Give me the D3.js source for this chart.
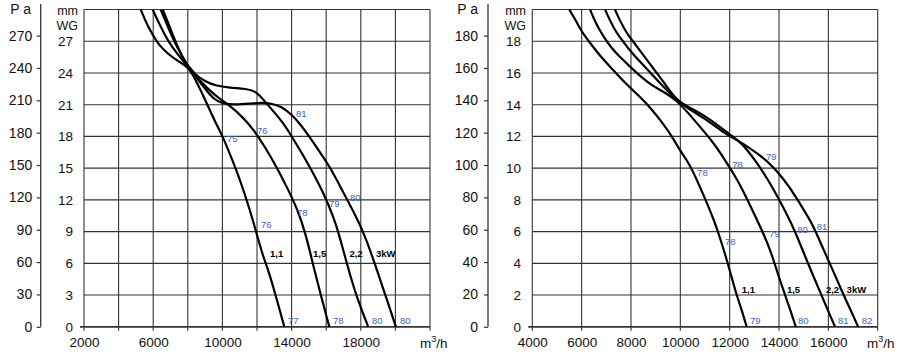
<!DOCTYPE html>
<html><head><meta charset="utf-8">
<script src="https://cdn.jsdelivr.net/npm/d3@7"></script>
<style>
body{margin:0;background:#fff;}
svg{display:block;font-family:"Liberation Sans",Arial,sans-serif;}
</style></head><body>
<svg id="c" width="900" height="354"></svg>
<script>
// ---------------- DATA ----------------
const powerNames = ["1,1", "1,5", "2,2", "3kW"];

// Left chart: flow (m3/h) and static pressure (mm WG)
const L11_q = [5280,5580,5930,6340,6860,7430,8030,8530,9050,9570,10020,10540,11020,11600,11980,12360,12710,13160,13580];
const L11_p = [30.0,28.8,27.7,26.6,25.8,25.1,24.6,23.1,21.3,19.4,18.0,15.9,13.9,11.0,8.8,6.6,5.1,2.5,0];
const L15_q = [5970,6390,6860,7430,8030,8760,9630,10440,11130,11830,12460,13140,13790,14370,14830,15250,15640,16180];
const L15_p = [30.0,28.5,27.0,25.7,24.6,23.1,21.8,20.9,19.9,18.6,17.0,15.1,13.0,11.0,8.7,5.8,3.3,0];
const L22_q = [6430,6860,7260,7670,8030,8470,8990,9570,10440,11360,11940,12560,13040,13500,13970,14490,15060,15640,16100,16570,16910,17260,17720,18430];
const L22_p = [30.0,28.3,26.8,25.6,24.6,23.8,23.2,22.8,22.6,22.5,22.3,21.1,20.2,19.3,18.1,16.7,15.1,13.3,11.7,9.7,7.7,5.6,3.0,0];
const L30_q = [6550,6970,7380,7720,8030,8530,9050,9510,9980,10730,11600,12290,12870,13450,13970,14490,15060,15640,16220,16800,17380,18010,18530,18990,19460,20030];
const L30_p = [30.0,28.3,26.6,25.4,24.6,23.5,22.4,21.5,21.1,21.0,21.1,21.2,21.1,20.8,20.1,19.2,17.9,16.5,15.1,13.3,11.5,9.5,7.3,5.1,2.8,0];

// Left chart sound level labels
const L_noise_text = ["75","76","77","76","78","78","79","80","81","80","80"];
const L_noise_q    = [10270,12230,13790,12000,14310,16390,16160,18650,14250,17380,20270];
const L_noise_p    = [17.85,9.7,0.55,18.6,10.85,0.55,11.7,0.55,20.2,12.27,0.55];
const L_power_q    = [12750,15240,17340,18880];
const L_power_p    = [6.95,6.95,6.95,6.95];

// Right chart
const R11_q = [5500,5730,5930,6140,6340,6780,7270,7800,8370,8850,9300,9660,9990,10270,10510,10800,11080,11370,11610,11850,12050,12260,12480,12690];
const R11_p = [20.0,19.4,18.8,18.3,17.9,17.0,16.2,15.3,14.5,13.7,12.8,12.0,11.1,10.5,9.8,8.8,7.8,6.7,5.6,4.4,3.3,2.1,1.1,0];
const R15_q = [6340,6580,6880,7190,7550,7960,8370,8850,9340,9830,10310,10800,11340,11650,11930,12300,12660,13030,13390,13680,13960,14200,14450,14680];
const R15_p = [20.0,19.1,18.3,17.6,17.0,16.4,15.8,15.2,14.8,14.3,13.5,12.6,11.6,10.9,10.2,9.3,8.2,7.0,5.8,4.7,3.3,2.2,1.1,0];
const R22_q = [6950,7150,7420,7680,7960,8370,8850,9340,9830,10390,11000,11610,12100,12490,13030,13550,14080,14610,15090,15500,15910,16270];
const R22_p = [20.0,19.3,18.5,18.0,17.4,16.7,15.9,15.1,14.3,13.8,13.3,12.6,12.0,11.6,10.5,9.3,7.8,6.2,4.3,2.8,1.3,0];
const R30_q = [7350,7550,7830,8080,8370,8850,9340,9830,10470,11120,11690,12140,12490,13070,13640,14200,14730,15180,15380,15820,16230,16590,16920,17210];
const R30_p = [20.0,19.3,18.5,18.0,17.4,16.4,15.4,14.3,13.6,13.0,12.3,11.9,11.6,11.0,10.3,9.3,8.1,6.9,6.4,4.8,3.4,2.1,1.0,0];

const R_noise_text = ["78","78","79","78","79","80","79","80","81","81","82"];
const R_noise_q    = [10680,11810,12820,12100,13600,14770,13470,14740,16390,15530,17350];
const R_noise_p    = [9.71,5.35,0.37,10.2,5.85,0.37,10.72,6.15,0.37,6.35,0.37];
const R_power_q    = [12490,14320,15900,16740];
const R_power_p    = [2.36,2.36,2.36,2.36];

// Tick values
const L_flowTicks  = [2000,4000,6000,8000,10000,12000,14000,16000,18000,20000,22000];
const L_flowLabels = [2000,6000,10000,14000,18000];
const L_mmTicks    = [0,3,6,9,12,15,18,21,24,27,30];
const L_mmLabels   = [0,3,6,9,12,15,18,21,24,27];
const L_paTicks    = [0,30,60,90,120,150,180,210,240,270];

const R_flowTicks  = [4000,6000,8000,10000,12000,14000,16000,18000];
const R_flowLabels = [4000,6000,8000,10000,12000,14000,16000];
const R_mmTicks    = [0,2,4,6,8,10,12,14,16,18,20];
const R_mmLabels   = [0,2,4,6,8,10,12,14,16,18];
const R_paTicks    = [0,20,40,60,80,100,120,140,160,180];

const PA_PER_MM = 9.80665;

// ---------------- DRAW ----------------
const svg = d3.select("#c");
svg.append("rect").attr("width",900).attr("height",354).attr("fill","#fff");
const FONT = "Liberation Sans, Arial, sans-serif";

function drawChart(cfg){
  const g = svg.append("g");
  const x = d3.scaleLinear().domain(cfg.qDomain).range([cfg.left, cfg.right]);
  const y = d3.scaleLinear().domain([0, cfg.mmMax]).range([cfg.bottom, cfg.top]);
  const pa = d3.scaleLinear().domain([0, cfg.mmMax*PA_PER_MM]).range([cfg.bottom, cfg.top]);

  g.selectAll(".vg").data(cfg.flowTicks).join("line")
    .attr("x1", d=>x(d)).attr("x2", d=>x(d))
    .attr("y1", cfg.top).attr("y2", cfg.bottom+4)
    .attr("stroke","#333").attr("stroke-width",1.1);
  g.selectAll(".hg").data(cfg.mmTicks).join("line")
    .attr("x1", d=> d===0 ? cfg.left-4 : cfg.left).attr("x2", cfg.right)
    .attr("y1", d=>y(d)).attr("y2", d=>y(d))
    .attr("stroke", "#333").attr("stroke-width", d=> d===0 ? 1.8 : 1.1);

  const xAxis = d3.axisBottom(x).tickValues(cfg.flowLabels).tickSize(0).tickPadding(11)
    .tickFormat(d3.format("d"));
  const xa = g.append("g").attr("transform",`translate(0,${cfg.bottom})`).call(xAxis);
  xa.select(".domain").remove();
  xa.selectAll("text").attr("font-size",13.5).attr("fill","#111").attr("font-family",FONT);

  const u = g.append("text").attr("x", cfg.unitX).attr("y", 348).attr("font-size",13.5).attr("fill","#111");
  u.append("tspan").text("m");
  u.append("tspan").text("3").attr("font-size",9).attr("dy",-6);
  u.append("tspan").text("/h").attr("dy",6);

  const mmAxis = d3.axisLeft(y).tickValues(cfg.mmLabels).tickSize(0).tickPadding(cfg.left-cfg.mmRight);
  const ma = g.append("g").attr("transform",`translate(${cfg.left},0)`).call(mmAxis);
  ma.select(".domain").remove();
  ma.selectAll("text").attr("font-size",13.5).attr("fill","#111").attr("font-family",FONT);
  g.append("text").attr("x", cfg.mmRight+5).attr("y", 15).attr("text-anchor","end").attr("font-size",12.5).attr("fill","#111").text("mm");
  g.append("text").attr("x", cfg.mmRight+5).attr("y", 30).attr("text-anchor","end").attr("font-size",12.5).attr("fill","#111").text("WG");

  const paAxis = d3.axisLeft(pa).tickValues(cfg.paTicks).tickSize(4).tickPadding(cfg.paPad);
  const pg = g.append("g").attr("transform",`translate(${cfg.paX},0)`).call(paAxis);
  pg.select(".domain").remove();
  pg.selectAll("line").attr("stroke","#333").attr("stroke-width",1.2);
  pg.selectAll("text").attr("font-size",14).attr("fill","#111").attr("font-family",FONT);
  g.append("line").attr("x1",cfg.paX).attr("x2",cfg.paX).attr("y1",4).attr("y2",cfg.bottom)
    .attr("stroke","#333").attr("stroke-width",1.3);
  g.append("text").attr("x", cfg.paLabelX).attr("y", 14).attr("text-anchor","end").attr("font-size",14).attr("fill","#111").text("P a");

  const clipId = "clip"+cfg.id;
  svg.append("clipPath").attr("id",clipId).append("rect")
    .attr("x",cfg.left).attr("y",cfg.top).attr("width",cfg.right-cfg.left).attr("height",cfg.bottom-cfg.top+1);
  const line = d3.line().x(d=>x(d[0])).y(d=>y(d[1])).curve(d3.curveBasis);
  g.append("g").attr("clip-path",`url(#${clipId})`)
    .selectAll("path").data(cfg.series).join("path")
    .attr("d", s=>line(d3.zip(s.q, s.p)))
    .attr("fill","none").attr("stroke","#000").attr("stroke-width",2.2).attr("stroke-linejoin","round");

  g.selectAll(".nz").data(d3.range(cfg.noiseText.length)).join("text")
    .attr("x", i=>x(cfg.noiseQ[i])).attr("y", i=>y(cfg.noiseP[i]))
    .attr("dominant-baseline","central").attr("font-size",9.5).attr("fill","#3d62c4")
    .text(i=>cfg.noiseText[i]);
  g.selectAll(".pw").data(d3.range(powerNames.length)).join("text")
    .attr("x", i=>x(cfg.powerQ[i])).attr("y", i=>y(cfg.powerP[i]))
    .attr("dominant-baseline","central").attr("font-size",9.5).attr("font-weight","bold").attr("fill","#000")
    .text(i=>powerNames[i]);
}

drawChart({
  id:"L", qDomain:[2000,22000], left:84, right:430, top:9.5, bottom:326.8, mmMax:30,
  flowTicks:L_flowTicks, flowLabels:L_flowLabels, mmTicks:L_mmTicks, mmLabels:L_mmLabels,
  paTicks:L_paTicks, paX:40.7, paPad:4.5, paLabelX:31, mmRight:73, unitX:420,
  series:[{q:L11_q,p:L11_p},{q:L15_q,p:L15_p},{q:L22_q,p:L22_p},{q:L30_q,p:L30_p}],
  noiseText:L_noise_text, noiseQ:L_noise_q, noiseP:L_noise_p, powerQ:L_power_q, powerP:L_power_p
});
drawChart({
  id:"R", qDomain:[4000,18000], left:532.3, right:877.7, top:9.5, bottom:326.8, mmMax:20,
  flowTicks:R_flowTicks, flowLabels:R_flowLabels, mmTicks:R_mmTicks, mmLabels:R_mmLabels,
  paTicks:R_paTicks, paX:488, paPad:6, paLabelX:478, mmRight:521, unitX:867,
  series:[{q:R11_q,p:R11_p},{q:R15_q,p:R15_p},{q:R22_q,p:R22_p},{q:R30_q,p:R30_p}],
  noiseText:R_noise_text, noiseQ:R_noise_q, noiseP:R_noise_p, powerQ:R_power_q, powerP:R_power_p
});
</script>
</body></html>
